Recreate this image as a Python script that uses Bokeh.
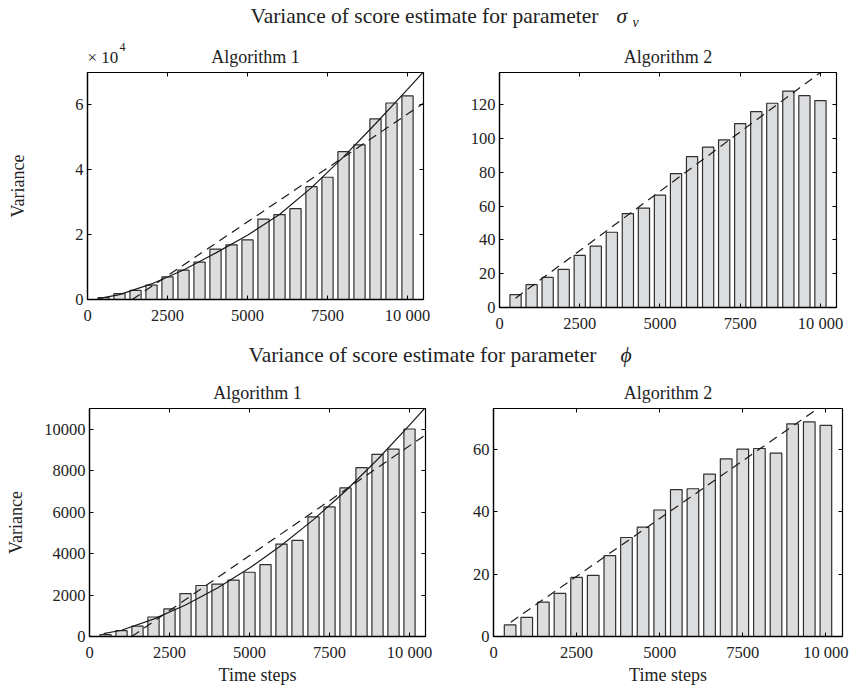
from bokeh.plotting import figure
from bokeh.models import Range1d, FixedTicker, LinearAxis, Label
from bokeh.layouts import column, row
from bokeh.embed import file_html
from bokeh.resources import INLINE

FONT = "Liberation Serif"
TXT = "#222222"

# ---------------- data ----------------
steps = [500, 1000, 1500, 2000, 2500, 3000, 3500, 4000, 4500, 5000,
         5500, 6000, 6500, 7000, 7500, 8000, 8500, 9000, 9500, 10000]

alg1_sigma = [550, 1800, 2800, 4450, 6950, 9050, 11550, 15550, 16850, 18400,
              24800, 26200, 28000, 34800, 37700, 45600, 47700, 55700, 60600, 62800]
alg2_sigma = [7.6, 13.5, 17.8, 22.5, 30.8, 36.3, 44.5, 55.5, 58.8, 66.5,
              79.2, 89.2, 94.9, 99.2, 108.8, 115.9, 120.8, 128.0, 125.3, 122.4]
alg1_phi = [90, 280, 505, 940, 1330, 2070, 2460, 2530, 2720, 3100,
            3470, 4460, 4640, 5770, 6250, 7170, 8150, 8790, 9040, 10010]
alg2_phi = [3.7, 6.1, 11.0, 13.8, 18.9, 19.6, 25.9, 31.7, 35.0, 40.5,
            47.0, 47.3, 52.0, 56.9, 60.0, 60.2, 58.7, 68.1, 68.7, 67.6]

# fitted curves (solid) and linear reference (dashed)
fit1_t = [300, 500, 1000, 2000, 3000, 4000, 5000, 6000, 7000, 8000, 9000, 10000, 10500]
fit1_sigma = [0, 600, 1500, 4800, 9100, 14300, 19800, 26200, 34500, 44000, 54200, 64800, 70200]
dash1_t = [1400, 10500]
dash1_sigma = [0, 60500]

dash2_t = [500, 10000]
dash2_sigma = [5.5, 139]

fit3_t = [437, 1000, 2000, 3000, 4000, 5000, 6000, 7000, 8000, 9000, 10000, 10500]
fit3_phi = [140, 300, 840, 1520, 2340, 3300, 4400, 5640, 7020, 8540, 10200, 11050]
dash3_t = [1320, 10500]
dash3_phi = [0, 9730]

dash4_t = [520, 9760]
dash4_phi = [4.6, 73]

x_ticks = [0, 2500, 5000, 7500, 10000]
x_tick_labels = {10000: "10 000"}

main_title = "Variance of score estimate for parameter"
panel_titles = ["Algorithm 1", "Algorithm 2"]


def style_axis(ax, fs="16.5px"):
    ax.major_tick_in = 4
    ax.major_tick_out = 0
    ax.minor_tick_in = 0
    ax.minor_tick_out = 0
    ax.axis_line_color = "black"
    ax.axis_line_width = 1.3
    ax.major_tick_line_color = "black"
    ax.major_label_text_font = FONT
    ax.major_label_text_font_size = fs
    ax.major_label_text_color = TXT
    ax.major_label_standoff = 5
    ax.axis_label_text_font = FONT
    ax.axis_label_text_font_size = "18px"
    ax.axis_label_text_font_style = "normal"
    ax.axis_label_text_color = TXT


def mirror(p, ticks, place):
    ax = LinearAxis(ticker=FixedTicker(ticks=ticks))
    ax.major_tick_in = 4
    ax.major_tick_out = 0
    ax.minor_tick_in = 0
    ax.minor_tick_out = 0
    ax.axis_line_color = None
    ax.major_label_text_font_size = "1px"
    ax.major_label_text_color = None
    ax.major_label_standoff = 0
    ax.major_tick_line_color = "black"
    p.add_layout(ax, place)


def panel(ymax, yticks, ylabels, fw, fh, bl, br, bt, bb,
          ylabel=None, ylabel_standoff=10, xlabel=None):
    p = figure(frame_width=fw, frame_height=fh,
               min_border_left=bl, min_border_right=br,
               min_border_top=bt, min_border_bottom=bb,
               x_range=Range1d(0, 10500), y_range=Range1d(0, ymax),
               toolbar_location=None, output_backend="svg", title=None)
    p.background_fill_color = "white"
    p.border_fill_color = "white"
    p.outline_line_color = "black"
    p.outline_line_width = 1.2
    p.xgrid.grid_line_color = None
    p.ygrid.grid_line_color = None
    p.xaxis.ticker = FixedTicker(ticks=x_ticks)
    p.xaxis.major_label_overrides = x_tick_labels
    p.yaxis.ticker = FixedTicker(ticks=yticks)
    if ylabels:
        p.yaxis.major_label_overrides = ylabels
    for ax in p.xaxis + p.yaxis:
        style_axis(ax)
    p.yaxis.major_label_standoff = 4
    p.xaxis.major_label_standoff = 6
    if ylabel:
        p.yaxis.axis_label = ylabel
        p.yaxis.axis_label_standoff = ylabel_standoff
    if xlabel:
        p.xaxis.axis_label = xlabel
        p.xaxis.axis_label_standoff = 0
    mirror(p, x_ticks, "above")
    mirror(p, yticks, "right")
    return p


def bars(p, vals):
    p.vbar(x=steps, top=vals, width=350, bottom=0,
           fill_color="#dcdddf", line_color="#303030", line_width=1.2)


# ---------- panel 1 ----------
p1 = panel(70000, [0, 20000, 40000, 60000],
           {0: "0", 20000: "2", 40000: "4", 60000: "6"},
           336, 227, 87, 37, 1, 41, ylabel="Variance", ylabel_standoff=44)
bars(p1, alg1_sigma)
p1.line(fit1_t, fit1_sigma, line_color="#1a1a1a", line_width=1.2)
p1.line(dash1_t, dash1_sigma, line_color="#1a1a1a", line_width=1.2, line_dash="9 6")

# ---------- panel 2 ----------
p2 = panel(139, [0, 20, 40, 60, 80, 100, 120], None,
           337, 235, 39, 14, 1, 33)
bars(p2, alg2_sigma)
p2.line(dash2_t, dash2_sigma, line_color="#1a1a1a", line_width=1.2, line_dash="9 6")

# ---------- panel 3 ----------
p3 = panel(11000, [0, 2000, 4000, 6000, 8000, 10000], None,
           336, 228, 89, 35, 1, 49, ylabel="Variance", ylabel_standoff=15,
           xlabel="Time steps")
bars(p3, alg1_phi)
p3.line(fit3_t, fit3_phi, line_color="#1a1a1a", line_width=1.2)
p3.line(dash3_t, dash3_phi, line_color="#1a1a1a", line_width=1.2, line_dash="9 6")

# ---------- panel 4 ----------
p4 = panel(73, [0, 20, 40, 60], None,
           349, 228, 33, 8, 1, 49, xlabel="Time steps")
bars(p4, alg2_phi)
p4.line(dash4_t, dash4_phi, line_color="#1a1a1a", line_width=1.2, line_dash="9 6")


# ---------- title strips (main title + panel titles) ----------
def strip(h, parts):
    t = figure(width=850, height=h, x_range=Range1d(0, 850), y_range=Range1d(0, h),
               toolbar_location=None, output_backend="svg", title=None,
               x_axis_location=None, y_axis_location=None, min_border=0)
    t.outline_line_color = None
    t.xgrid.grid_line_color = None
    t.ygrid.grid_line_color = None
    t.background_fill_color = "white"
    t.border_fill_color = "white"
    for (x, y, txt, size, style, align) in parts:
        t.add_layout(Label(x=x, y=y, text=txt, text_font=FONT, text_font_size=size,
                           text_font_style=style, text_color=TXT,
                           text_align=align, text_baseline="alphabetic"))
    return t


t1 = strip(71, [(250, 55.5, main_title, "21.5px", "normal", "left"),
                (616, 55.5, "σ", "21.5px", "italic", "left"),
                (632, 49, "v", "14px", "italic", "left"),
                (255, 14.3, panel_titles[0], "18px", "normal", "center"),
                (667.5, 14.3, panel_titles[1], "18px", "normal", "center"),
                (87, 14, "× 10", "17px", "normal", "left"),
                (119, 25, "4", "12px", "normal", "left")])
t2 = strip(67, [(248, 52.5, main_title, "21.5px", "normal", "left"),
                (620, 52.5, "ϕ", "21.5px", "italic", "left"),
                (257, 14.3, panel_titles[0], "18px", "normal", "center"),
                (667.5, 14.3, panel_titles[1], "18px", "normal", "center")])

layout = column(t1, row(p1, p2), t2, row(p3, p4))
layout.spacing = 0

open("out.html", "w").write(file_html(layout, INLINE))
